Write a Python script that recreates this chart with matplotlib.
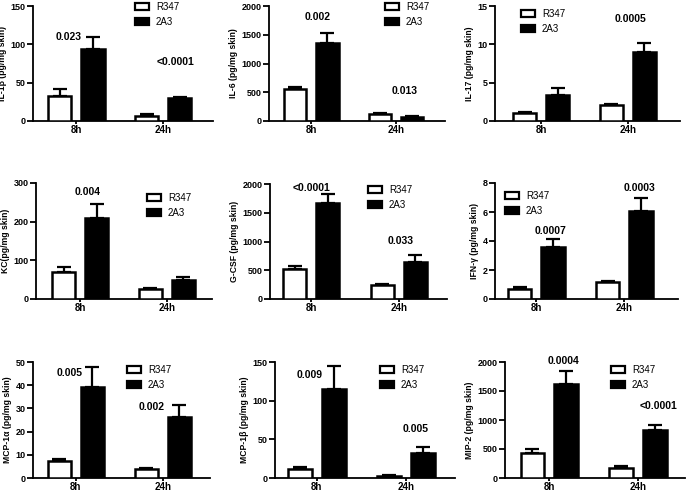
import matplotlib
matplotlib.use("Agg")
import matplotlib.pyplot as plt
from matplotlib.patches import Patch

plt.rcParams['font.family'] = ['Liberation Sans', 'DejaVu Sans']

# data
times = ["8h", "24h"]
groups = ["R347", "2A3"]

labels = ["IL-1\u03b2 (pg/mg skin)", "IL-6 (pg/mg skin)", "IL-17 (pg/mg skin)",
          "KC(pg/mg skin)", "G-CSF (pg/mg skin)", "IFN-\u03b3 (pg/mg skin)",
          "MCP-1\u03b1 (pg/mg skin)", "MCP-1\u03b2 (pg/mg skin)", "MIP-2 (pg/mg skin)"]

r347_mean = [[33, 6.5], [551, 122], [1.1, 2.04],
             [71, 25], [514, 237], [0.69, 1.2],
             [7.3, 3.7], [11.7, 2.6], [432, 173]]
r347_err = [[9, 2], [40, 17], [0.12, 0.16],
            [11, 4], [52, 23], [0.14, 0.07],
            [0.8, 0.5], [2.6, 0.9], [75, 40]]
a3_mean = [[93.5, 29.5], [1362, 75], [3.35, 8.96],
           [209, 48], [1676, 636], [3.62, 6.1],
           [39.3, 26.5], [114.6, 32.4], [1625, 830]]
a3_err = [[16, 2], [174, 12], [0.95, 1.24],
          [36, 8], [151, 127], [0.53, 0.9],
          [8.4, 4.9], [30.2, 7.8], [225, 92]]

pvals = [["0.023", "<0.0001"], ["0.002", "0.013"], [None, "0.0005"],
         ["0.004", None], ["<0.0001", "0.033"], ["0.0007", "0.0003"],
         ["0.005", "0.002"], ["0.009", "0.005"], ["0.0004", "<0.0001"]]

ymax = [150, 2000, 15, 300, 2000, 8, 50, 150, 2000]
ystep = [50, 500, 5, 100, 500, 2, 10, 50, 500]

# layout (pixels)
W, H = 686, 493
axbox = [(33, 6, 213, 121), (269, 6, 445, 121), (495, 6, 680, 121),
         (36, 183, 212, 299), (270, 184, 447, 299), (495, 183, 678, 299),
         (33, 362, 210, 478), (275, 362, 455, 478), (505, 362, 685, 478)]
xlims = [(-0.5, 1.57), (-0.5, 1.58), (-0.53, 1.6),
         (-0.51, 1.52), (-0.47, 1.55), (-0.47, 1.61),
         (-0.49, 1.54), (-0.47, 1.55), (-0.5, 1.53)]
legpos = [(135, 2), (385, 2), (521, 9), (147, 193), (368, 185), (505, 191),
          (127, 365), (380, 365), (611, 365)]
# p-value text positions: (x offset from group, y value)
ppos = [[(-0.09, 110), (0.14, 77)], [(0.07, 1800), (0.1, 528)], [None, (0.03, 13.3)],
        [(0.09, 278), None], [(0.0, 1930), (0.02, 1006)], [(0.16, 4.72), (0.17, 7.65)],
        [(-0.07, 45.4), (-0.13, 30.5)], [(-0.08, 132.7), (0.11, 64)], [(0.16, 2017), (0.23, 1239)]]

fig = plt.figure(figsize=(W / 100, H / 100), dpi=100)

bw = 0.265
off = 0.19
for i in range(9):
    l, t, r, b = axbox[i]
    ax = fig.add_axes([l / W, 1 - b / H, (r - l) / W, (b - t) / H])
    xs = [0, 1]
    ax.bar([x - off for x in xs], r347_mean[i], width=bw, color="white",
           edgecolor="black", linewidth=1.8, zorder=3)
    ax.bar([x + off for x in xs], a3_mean[i], width=bw, color="black",
           edgecolor="black", linewidth=1.8, zorder=3)
    ax.errorbar([x - off for x in xs], r347_mean[i], yerr=[[0, 0], r347_err[i]],
                fmt="none", ecolor="black", elinewidth=1.6, capsize=5, capthick=1.6, zorder=2)
    ax.errorbar([x + off for x in xs], a3_mean[i], yerr=[[0, 0], a3_err[i]],
                fmt="none", ecolor="black", elinewidth=1.6, capsize=5, capthick=1.6, zorder=2)

    ax.set_xlim(*xlims[i])
    ax.set_ylim(0, ymax[i])
    ax.set_yticks(range(0, ymax[i] + 1, ystep[i]))
    ax.set_xticks(xs)
    ax.set_xticklabels(times, fontsize=7, fontweight="bold")
    for lab in ax.get_yticklabels():
        lab.set_fontsize(6.5)
        lab.set_fontweight("bold")
    ax.tick_params(axis="y", length=4, width=1.3, pad=1.5)
    ax.tick_params(axis="x", length=2.5, width=1.3, pad=0.5)
    for s in ["top", "right"]:
        ax.spines[s].set_visible(False)
    for s in ["left", "bottom"]:
        ax.spines[s].set_linewidth(1.3)
    ax.set_ylabel(labels[i], fontsize=6.2, fontweight="bold", labelpad=2)

    for j in range(2):
        if pvals[i][j] is not None:
            dx, yv = ppos[i][j]
            ax.text(xs[j] + dx, yv, pvals[i][j], ha="center", va="center",
                    fontsize=7.5, fontweight="bold")

    handles = [Patch(facecolor="white", edgecolor="black", linewidth=1.6),
               Patch(facecolor="black", edgecolor="black", linewidth=1.6)]
    lx, ly = legpos[i]
    ax.legend(handles, groups, loc="upper left",
              bbox_to_anchor=(lx / W, 1 - ly / H), bbox_transform=fig.transFigure,
              frameon=False, fontsize=7, borderpad=0, borderaxespad=0,
              handlelength=1.45, handleheight=0.7, handletextpad=0.7, labelspacing=0.5)

fig.savefig("out.png", dpi=100)
